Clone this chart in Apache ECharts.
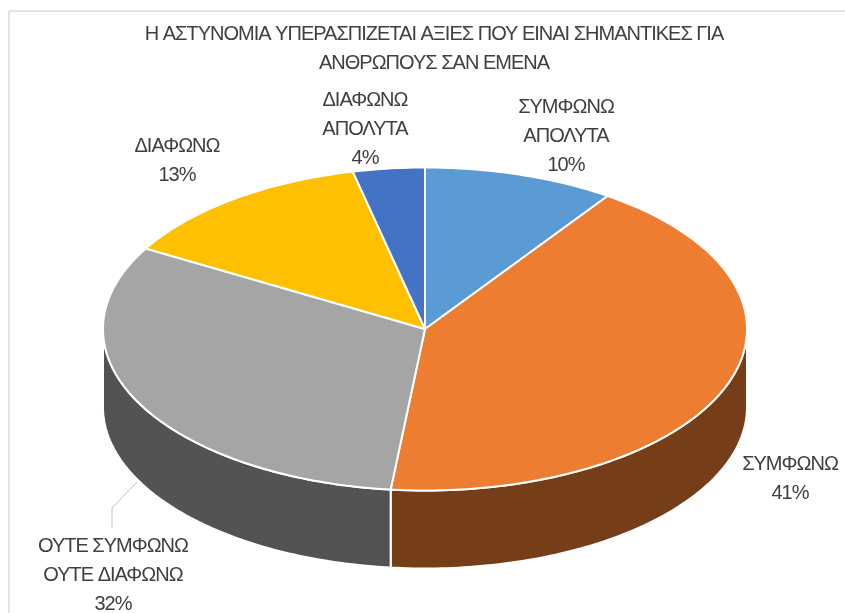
<!DOCTYPE html>
<html>
<head>
<meta charset="utf-8">
<style>
  html, body { margin: 0; padding: 0; background: #fff; }
  #main { width: 845px; height: 613px; }
</style>
<script src="https://cdn.jsdelivr.net/npm/echarts@6/dist/echarts.min.js"></script>
</head>
<body>
<div id="main"></div>
<script>
var chartTitle = 'Η ΑΣΤΥΝΟΜΙΑ ΥΠΕΡΑΣΠΙΖΕΤΑΙ ΑΞΙΕΣ ΠΟΥ ΕΙΝΑΙ ΣΗΜΑΝΤΙΚΕΣ ΓΙΑ\nΑΝΘΡΩΠΟΥΣ ΣΑΝ ΕΜΕΝΑ';
var categories = ['ΣΥΜΦΩΝΩ\nΑΠΟΛΥΤΑ', 'ΣΥΜΦΩΝΩ', 'ΟΥΤΕ ΣΥΜΦΩΝΩ\nΟΥΤΕ ΔΙΑΦΩΝΩ', 'ΔΙΑΦΩΝΩ', 'ΔΙΑΦΩΝΩ\nΑΠΟΛΥΤΑ'];
// slice sizes as measured on the tilted pie, the 3D view skews them a bit from the printed %
var values = [9.6, 42.1, 31.6, 13.1, 3.6];
var percentLabels = ['10%', '41%', '32%', '13%', '4%'];
var topColors = ['#5B9BD5', '#ED7D31', '#A5A5A5', '#FFC000', '#4472C4'];
var sideColors = ['#2E4E6B', '#763E18', '#535353', '#806000', '#223962'];

// layout of the tilted pie, in px
var cx = 425, cy = 329, rx = 322, ry = 161.5, depth = 78;
var labelPos = [[566, 136], [790, 479], [113, 575], [177, 161], [365, 129]];
var textColor = '#404040';
var fontFamily = '"Liberation Sans", Arial, sans-serif';

var total = values.reduce(function (a, b) { return a + b; }, 0);

function rim(deg, dy) {
    var t = deg * Math.PI / 180;
    return [cx + rx * Math.sin(t), cy - ry * Math.cos(t) + dy];
}

function renderSlice(params, api) {
    var i = params.dataIndex;
    var before = 0;
    for (var k = 0; k < i; k++) before += values[k];
    var a0 = before / total * 360;
    var a1 = (before + api.value(0)) / total * 360;
    var children = [];

    // outer wall, only the part facing the viewer
    var s0 = Math.max(a0, 90), s1 = Math.min(a1, 270);
    if (s1 > s0) {
        var wall = [], d;
        for (d = s0; d < s1; d += 1) wall.push(rim(d, 0));
        wall.push(rim(s1, 0));
        for (d = s1; d > s0; d -= 1) wall.push(rim(d, depth));
        wall.push(rim(s0, depth));
        children.push({
            type: 'polygon', z2: 1,
            shape: { points: wall },
            style: { fill: sideColors[i], stroke: '#fff', lineWidth: 2 }
        });
    }

    var face = [[cx, cy]];
    for (var e = a0; e < a1; e += 1) face.push(rim(e, 0));
    face.push(rim(a1, 0));
    children.push({
        type: 'polygon', z2: 2,
        shape: { points: face },
        style: { fill: topColors[i], stroke: '#fff', lineWidth: 2, lineJoin: 'round' }
    });

    children.push({
        type: 'text', z2: 3,
        x: labelPos[i][0], y: labelPos[i][1],
        style: {
            text: categories[i] + '\n' + percentLabels[i],
            fill: textColor, fontFamily: fontFamily, fontSize: 20, lineHeight: 29,
            textAlign: 'center', textVerticalAlign: 'middle'
        }
    });
    return { type: 'group', children: children };
}

var option = {
    animation: false,
    backgroundColor: '#fff',
    title: {
        text: chartTitle,
        left: 429, top: 15, textAlign: 'center',
        textStyle: { color: textColor, fontFamily: fontFamily, fontSize: 20, fontWeight: 'normal', lineHeight: 29 }
    },
    graphic: [
        { type: 'polyline', silent: true, shape: { points: [[9, 613], [9, 11], [845, 11]] }, style: { fill: null, stroke: '#c8c8c8', lineWidth: 1 } },
        // leader line of the grey slice
        { type: 'polyline', silent: true, z: 5, shape: { points: [[137, 482], [112, 508], [112, 528]] }, style: { fill: null, stroke: '#bfbfbf', lineWidth: 1 } }
    ],
    series: [{
        type: 'custom',
        coordinateSystem: 'none',
        silent: true,
        renderItem: renderSlice,
        data: values
    }]
};

var chart = echarts.init(document.getElementById('main'));
chart.setOption(option);
// Excel squeezes its text, zrender has no letter spacing option.
// The canvas only exists after the first paint, so draw again.
chart.getDom().querySelector('canvas').getContext('2d').letterSpacing = '-1px';
chart.setOption(option, true);
</script>
</body>
</html>
